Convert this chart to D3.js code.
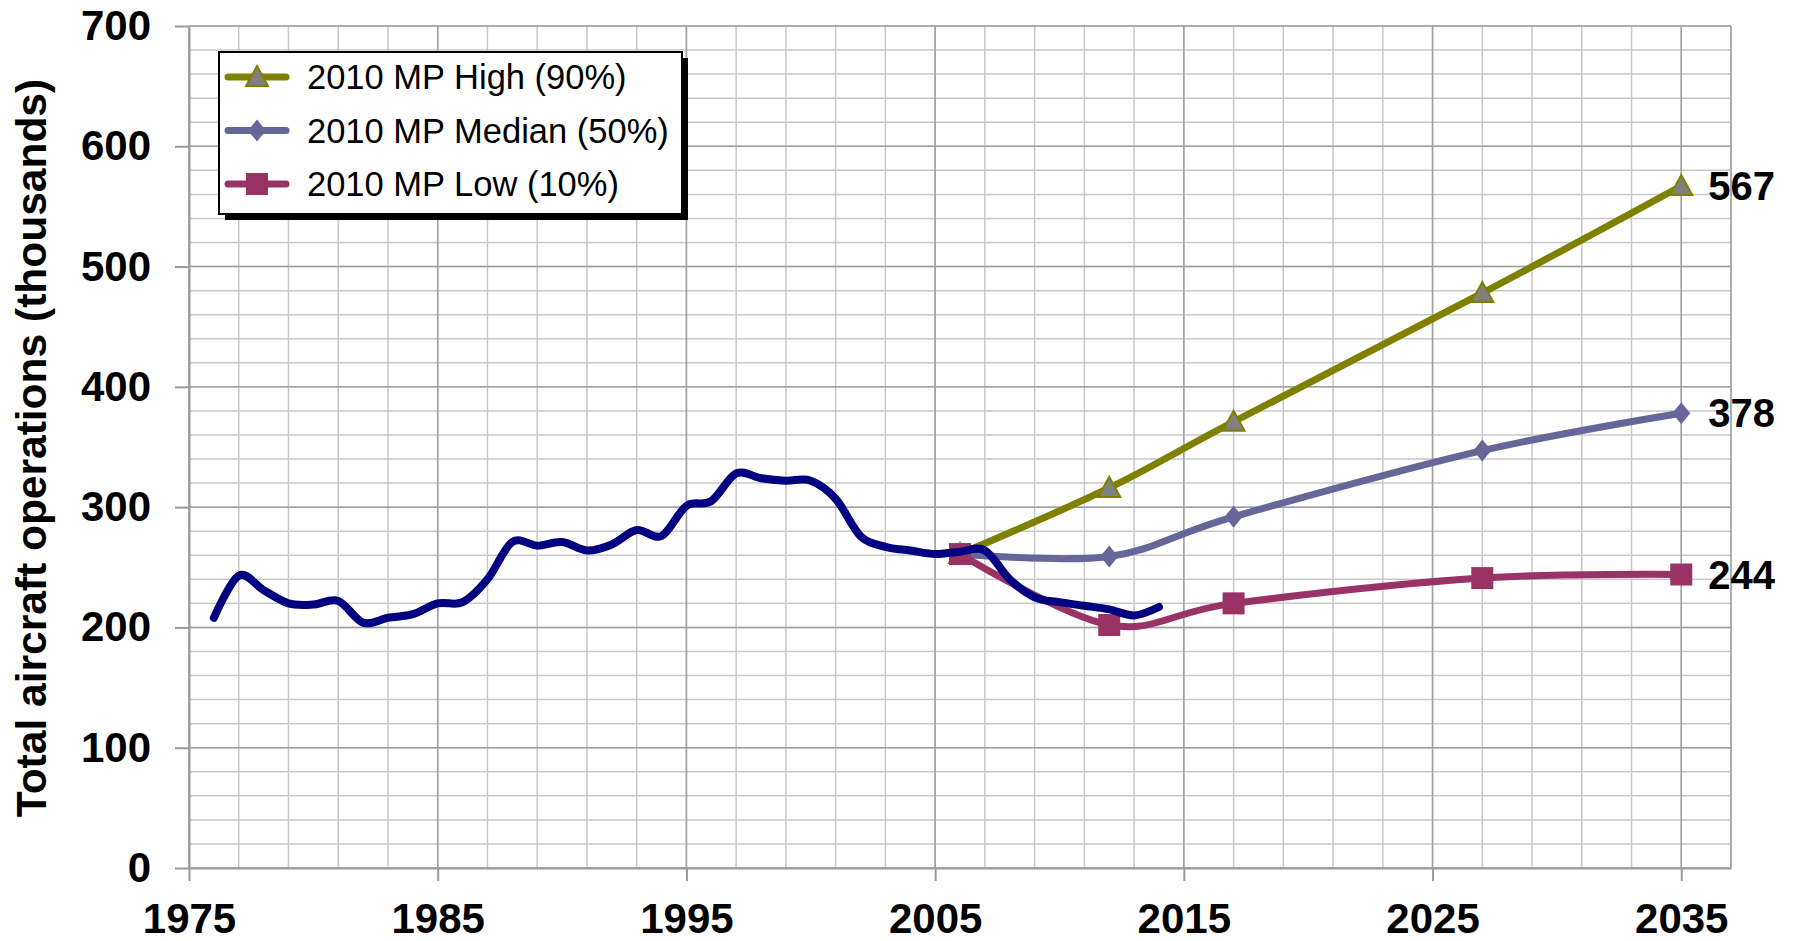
<!DOCTYPE html>
<html>
<head>
<meta charset="utf-8">
<script src="https://cdn.jsdelivr.net/npm/d3@7"></script>
<style>
  body { margin: 0; background: #fff; }
  text { font-family: "Liberation Sans", Arial, sans-serif; }
</style>
</head>
<body>
<div id="chart"></div>
<script>
// historical operations (thousands)
var histYears = [1976, 1977, 1978, 1979, 1980, 1981, 1982, 1983, 1984, 1985,
                 1986, 1987, 1988, 1989, 1990, 1991, 1992, 1993, 1994, 1995,
                 1996, 1997, 1998, 1999, 2000, 2001, 2002, 2003, 2004, 2005,
                 2006, 2007, 2008, 2009, 2010, 2011, 2012, 2013, 2014];
var histValues = [208, 243, 231, 220, 219, 222, 204, 208, 211, 220,
                  221, 240, 271, 268, 271, 264, 269, 281, 276, 301,
                  305, 328, 324, 322, 322, 307, 276, 267, 264, 261,
                  263, 264, 240, 225, 221, 218, 215, 210, 217];

// 2010 master plan forecasts
var fcYears = [2006, 2012, 2017, 2027, 2035];
var highValues = [261, 316, 371, 478, 567];
var medianValues = [261, 259, 292, 347, 378];
var lowValues = [261, 202, 220, 241, 244];

var xTicks = [1975, 1985, 1995, 2005, 2015, 2025, 2035];
var yTicks = [0, 100, 200, 300, 400, 500, 600, 700];

var W = 1797, H = 941;
var pLeft = 189, pRight = 1731, pTop = 26, pBottom = 868;

var svg = d3.select("#chart").append("svg")
    .attr("width", W)
    .attr("height", H);

var x = d3.scaleLinear().domain([1975, 2037]).range([pLeft, pRight]);
var y = d3.scaleLinear().domain([0, 700]).range([pBottom, pTop]);

// minor grid
var grid = svg.append("g");
grid.selectAll(".vmin")
    .data(d3.range(1977, 2038, 2))
    .enter().append("line")
      .attr("x1", function(d) { return x(d); })
      .attr("x2", function(d) { return x(d); })
      .attr("y1", pTop).attr("y2", pBottom)
      .attr("stroke", "#c8c8c8").attr("stroke-width", 1.5);
grid.selectAll(".hmin")
    .data(d3.range(20, 701, 20))
    .enter().append("line")
      .attr("x1", pLeft).attr("x2", pRight)
      .attr("y1", function(d) { return y(d); })
      .attr("y2", function(d) { return y(d); })
      .attr("stroke", "#c8c8c8").attr("stroke-width", 1.5);

// major grid
grid.selectAll(".vmaj")
    .data(xTicks)
    .enter().append("line")
      .attr("x1", function(d) { return x(d); })
      .attr("x2", function(d) { return x(d); })
      .attr("y1", pTop).attr("y2", pBottom)
      .attr("stroke", "#a0a0a0").attr("stroke-width", 1.5);
grid.selectAll(".hmaj")
    .data(yTicks)
    .enter().append("line")
      .attr("x1", pLeft).attr("x2", pRight)
      .attr("y1", function(d) { return y(d); })
      .attr("y2", function(d) { return y(d); })
      .attr("stroke", "#a0a0a0").attr("stroke-width", 1.5);

// axes
var yAxis = svg.append("g")
    .attr("transform", "translate(" + pLeft + ",0)")
    .call(d3.axisLeft(y).tickValues(yTicks).tickSize(14).tickPadding(24).tickSizeOuter(0));
var xAxis = svg.append("g")
    .attr("transform", "translate(0," + pBottom + ")")
    .call(d3.axisBottom(x).tickValues(xTicks).tickFormat(d3.format("d"))
          .tickSize(13).tickPadding(22).tickSizeOuter(0));

[yAxis, xAxis].forEach(function(a) {
    a.select(".domain").attr("stroke", "#999").attr("stroke-width", 2);
    a.selectAll(".tick line").attr("stroke", "#999").attr("stroke-width", 2);
    a.selectAll("text")
        .attr("font-size", "42px")
        .attr("font-weight", "bold")
        .attr("fill", "#000")
        .style("font-family", "'Liberation Sans', Arial, sans-serif");
});

// right border
svg.append("line")
    .attr("x1", pRight).attr("x2", pRight)
    .attr("y1", pTop).attr("y2", pBottom)
    .attr("stroke", "#a0a0a0").attr("stroke-width", 1.5);

// Y label
svg.append("text")
    .attr("transform", "translate(46,448) rotate(-90)")
    .attr("text-anchor", "middle")
    .attr("font-size", "42.5px")
    .attr("font-weight", "bold")
    .text("Total aircraft operations (thousands)");

var smooth = d3.line()
    .x(function(d) { return x(d[0]); })
    .y(function(d) { return y(d[1]); })
    .curve(d3.curveCardinal.tension(0));

var series = [
  { name: "2010 MP High (90%)", values: highValues, color: "#808000", marker: "tri" },
  { name: "2010 MP Median (50%)", values: medianValues, color: "#666699", marker: "dia" },
  { name: "2010 MP Low (10%)", values: lowValues, color: "#993366", marker: "sq" }
];

function drawMarker(g, type, color, cx, cy) {
    if (type === "tri") {
        g.append("path")
            .attr("d", "M" + cx + "," + (cy - 11) + "L" + (cx + 11) + "," + (cy + 9) +
                       "L" + (cx - 11) + "," + (cy + 9) + "Z")
            .attr("fill", "#808080").attr("stroke", color).attr("stroke-width", 2);
    } else if (type === "dia") {
        g.append("path")
            .attr("d", "M" + cx + "," + (cy - 11) + "L" + (cx + 9) + "," + cy +
                       "L" + cx + "," + (cy + 11) + "L" + (cx - 9) + "," + cy + "Z")
            .attr("fill", color);
    } else {
        g.append("rect")
            .attr("x", cx - 11).attr("y", cy - 11)
            .attr("width", 22).attr("height", 22)
            .attr("fill", color);
    }
}

series.forEach(function(s) {
    var pts = fcYears.map(function(yr, i) { return [yr, s.values[i]]; });
    var g = svg.append("g");
    g.append("path")
        .attr("d", smooth(pts))
        .attr("fill", "none")
        .attr("stroke", s.color)
        .attr("stroke-width", 7)
        .attr("stroke-linecap", "round")
        .attr("stroke-linejoin", "round");
    pts.forEach(function(p) { drawMarker(g, s.marker, s.color, x(p[0]), y(p[1])); });

    var last = pts[pts.length - 1];
    svg.append("text")
        .attr("x", x(last[0]) + 27)
        .attr("y", y(last[1]))
        .attr("dy", "0.35em")
        .attr("font-size", "40px")
        .attr("font-weight", "bold")
        .text(last[1]);
});

// historical line
var hist = histYears.map(function(yr, i) { return [yr, histValues[i]]; });
svg.append("path")
    .attr("d", smooth(hist))
    .attr("fill", "none")
    .attr("stroke", "#000080")
    .attr("stroke-width", 8)
    .attr("stroke-linecap", "round")
    .attr("stroke-linejoin", "round");

// legend
var lg = svg.append("g");
lg.append("rect")
    .attr("x", 225).attr("y", 58).attr("width", 463).attr("height", 162)
    .attr("fill", "#000");
lg.append("rect")
    .attr("x", 219).attr("y", 52).attr("width", 463).attr("height", 162)
    .attr("fill", "#fff").attr("stroke", "#000").attr("stroke-width", 2);

series.forEach(function(s, i) {
    var cy = 77 + i * 53.5;
    lg.append("line")
        .attr("x1", 228).attr("x2", 286)
        .attr("y1", cy).attr("y2", cy)
        .attr("stroke", s.color).attr("stroke-width", 7)
        .attr("stroke-linecap", "round");
    drawMarker(lg, s.marker, s.color, 257, cy);
    lg.append("text")
        .attr("x", 307).attr("y", cy + 12)
        .attr("font-size", "34.5px")
        .text(s.name);
});
</script>
</body>
</html>
